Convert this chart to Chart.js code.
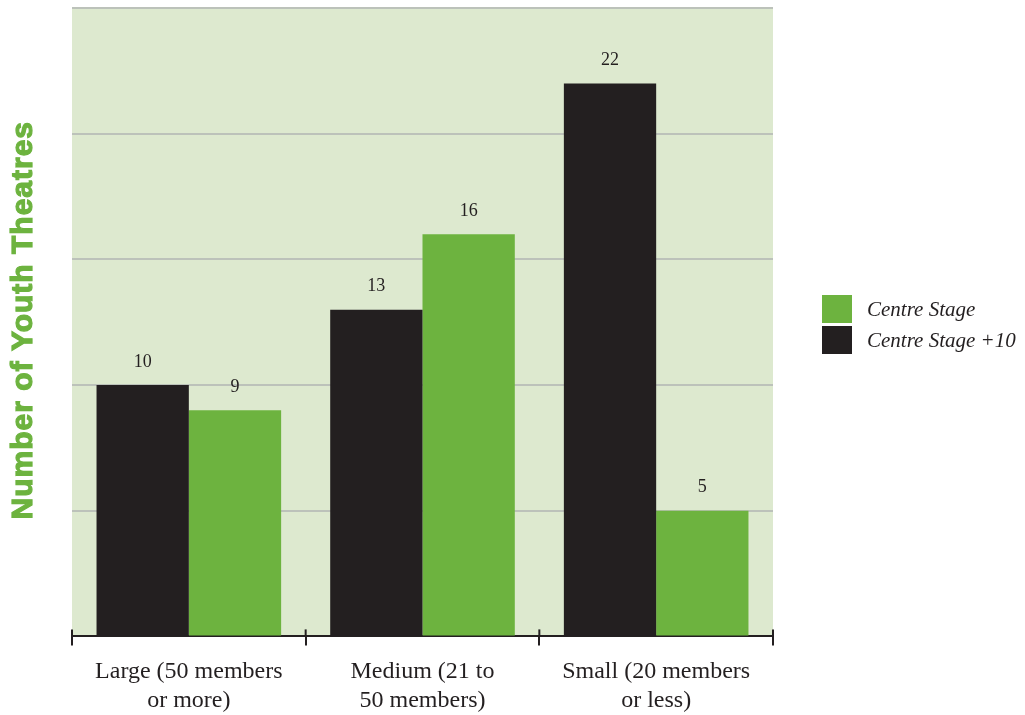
<!DOCTYPE html>
<html>
<head>
<meta charset="utf-8">
<script src="https://cdn.jsdelivr.net/npm/chart.js@4"></script>
<style>
  html, body { margin: 0; padding: 0; background: #ffffff; }
  #wrap { width: 1025px; height: 715px; position: relative; }
</style>
</head>
<body>
<div id="wrap"><canvas id="chart"></canvas></div>
<script>
// Categories and series
const categories = [
  ['Large (50 members', 'or more)'],
  ['Medium (21 to', '50 members)'],
  ['Small (20 members', 'or less)']
];
const plus10Values = [10, 13, 22];   // Centre Stage +10 (black)
const stageValues = [9, 16, 5];      // Centre Stage (green)
const yTicks = [0, 5, 10, 15, 20, 25];
const yTitle = 'Number of Youth Theatres';

const GREEN = '#6db33f';
const BLACK = '#231f20';
const PLOT_BG = '#dde9cf';
const SERIF = '"Liberation Serif", "DejaVu Serif", serif';

// Plot background + rotated axis title
const plotBg = {
  id: 'plotBg',
  beforeDraw(chart) {
    const { ctx, chartArea: a } = chart;
    ctx.save();
    ctx.fillStyle = PLOT_BG;
    ctx.fillRect(a.left, a.top, a.right - a.left, a.bottom - a.top);
    ctx.translate(24, (a.top + a.bottom) / 2 - 2);
    ctx.rotate(-Math.PI / 2);
    ctx.fillStyle = GREEN;
    ctx.strokeStyle = GREEN;
    ctx.lineWidth = 1.2;
    ctx.letterSpacing = '1px';
    ctx.font = 'bold 30px "Liberation Sans", Arial, sans-serif';
    ctx.textAlign = 'center';
    ctx.textBaseline = 'middle';
    ctx.fillText(yTitle, 0, 0);
    ctx.strokeText(yTitle, 0, 0);
    ctx.restore();
  }
};

// Value labels above bars + short tick marks above the axis
const barLabels = {
  id: 'barLabels',
  afterDatasetsDraw(chart) {
    const { ctx } = chart;
    ctx.save();
    ctx.fillStyle = BLACK;
    ctx.font = '18px ' + SERIF;
    ctx.textAlign = 'center';
    ctx.textBaseline = 'middle';
    chart.data.datasets.forEach((ds, di) => {
      chart.getDatasetMeta(di).data.forEach((bar, i) => {
        ctx.fillText(String(ds.data[i]), bar.x, bar.y - 23);
      });
    });
    // tick marks poking above the x axis
    const xs = chart.scales.x;
    const bottom = chart.chartArea.bottom;
    ctx.strokeStyle = BLACK;
    ctx.lineWidth = 2;
    for (let i = 0; i <= categories.length; i++) {
      const x = xs.getPixelForValue(i - 0.5);
      ctx.beginPath();
      ctx.moveTo(x, bottom - 7);
      ctx.lineTo(x, bottom);
      ctx.stroke();
    }
    ctx.restore();
  }
};

// Legend at the right (green first)
const sideLegend = {
  id: 'sideLegend',
  afterDraw(chart) {
    const { ctx, chartArea: a } = chart;
    const items = [
      { text: 'Centre Stage', color: GREEN },
      { text: 'Centre Stage +10', color: BLACK }
    ];
    ctx.save();
    ctx.font = 'italic 21px ' + SERIF;
    ctx.textBaseline = 'middle';
    ctx.textAlign = 'left';
    items.forEach((it, i) => {
      const x = a.right + 49;
      const y = 295 + i * 31;
      ctx.fillStyle = it.color;
      ctx.fillRect(x, y, 30, 28);
      ctx.fillStyle = BLACK;
      ctx.fillText(it.text, x + 45, y + 15);
    });
    ctx.restore();
  }
};

new Chart(document.getElementById('chart'), {
  type: 'bar',
  data: {
    labels: categories,
    datasets: [
      {
        label: 'Centre Stage +10',
        data: plus10Values,
        backgroundColor: BLACK,
        categoryPercentage: 0.79,
        barPercentage: 1.0
      },
      {
        label: 'Centre Stage',
        data: stageValues,
        backgroundColor: GREEN,
        categoryPercentage: 0.79,
        barPercentage: 1.0
      }
    ]
  },
  options: {
    responsive: true,
    maintainAspectRatio: false,
    animation: false,
    events: [],
    layout: { padding: { left: 72, right: 252, top: 8, bottom: -12 } },
    plugins: {
      legend: { display: false },
      tooltip: { enabled: false }
    },
    scales: {
      x: {
        offset: true,
        grid: {
          display: true,
          offset: true,
          drawOnChartArea: false,
          drawTicks: true,
          tickLength: 9,
          color: BLACK,
          lineWidth: 2
        },
        border: { display: true, color: BLACK, width: 2 },
        ticks: {
          color: BLACK,
          font: { family: SERIF, size: 24, lineHeight: 1.2 },
          padding: 12,
          maxRotation: 0
        }
      },
      y: {
        min: yTicks[0],
        max: yTicks[yTicks.length - 1],
        afterBuildTicks(scale) {
          scale.ticks = yTicks.map(v => ({ value: v }));
        },
        grid: {
          color: '#bcc2ba',
          lineWidth: 2,
          drawTicks: false
        },
        border: { display: false },
        ticks: { display: false }
      }
    }
  },
  plugins: [plotBg, barLabels, sideLegend]
});
</script>
</body>
</html>
